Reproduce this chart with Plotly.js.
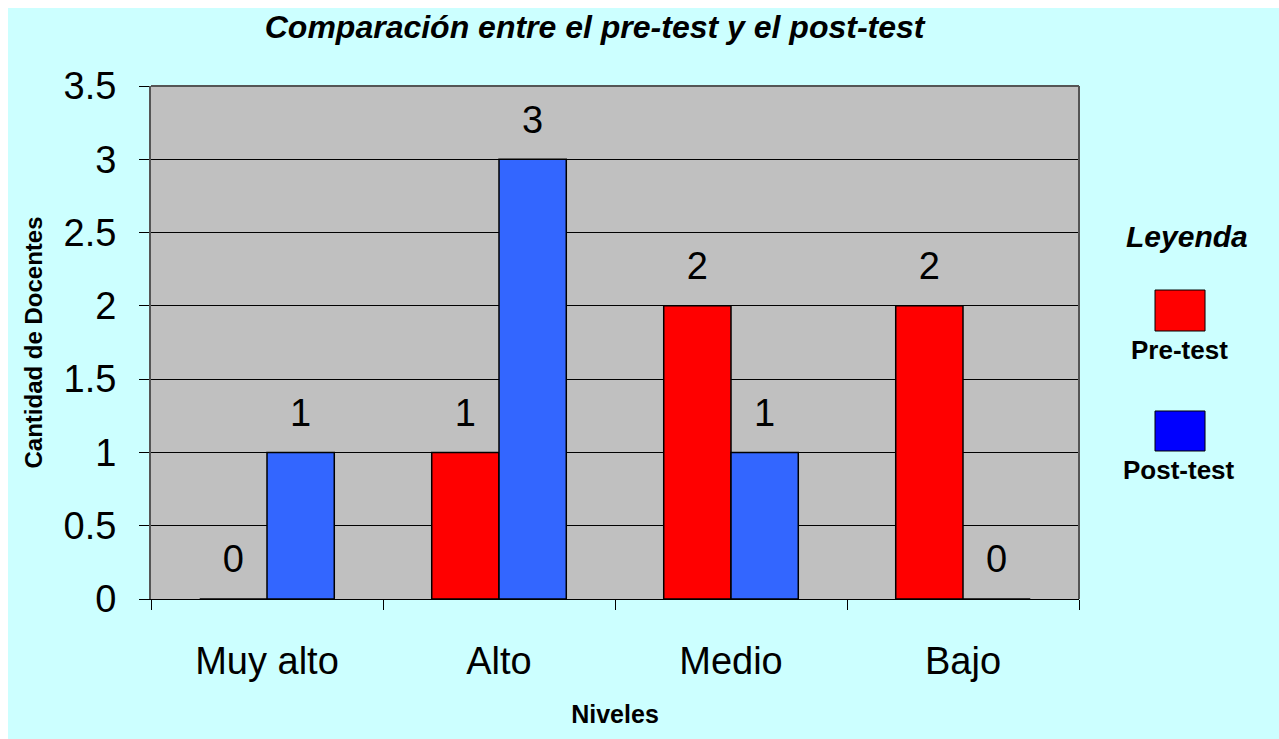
<!DOCTYPE html>
<html>
<head>
<meta charset="utf-8">
<script src="https://cdn.plot.ly/plotly-3.0.1.min.js"></script>
<style>
html,body{margin:0;padding:0;background:#ffffff;}
#chart{position:absolute;left:8px;top:8px;width:1271px;height:731px;}
</style>
</head>
<body>
<div id="chart"></div>
<script>
const categories = ["Muy alto", "Alto", "Medio", "Bajo"];
const seriesNames = ["Pre-test", "Post-test"];
const preTest = [0, 1, 2, 2];
const postTest = [1, 3, 1, 0];
const yTickValues = [0, 0.5, 1, 1.5, 2, 2.5, 3, 3.5];
const yTickLabels = ["0", "0.5", "1", "1.5", "2", "2.5", "3", "3.5"];
const chartTitle = "Comparación entre el pre-test y el post-test";
const xTitle = "Niveles";
const yTitle = "Cantidad de Docentes";
const legendTitle = "Leyenda";

const FONT = '"Liberation Sans", Arial, sans-serif';
const barColors = ["#ff0000", "#3366ff"];
const legendColors = ["#ff0000", "#0000ff"];
const groups = ["pre", "post"];

const labelFont = {family: FONT, size: 38, color: "#000000"};

const barTraces = [preTest, postTest].map((vals, i) => ({
  type: "bar",
  name: seriesNames[i],
  x: categories,
  y: vals,
  offsetgroup: groups[i],
  alignmentgroup: "a",
  marker: {color: barColors[i], line: {color: "#000000", width: 1.5}},
  hoverinfo: "x+y+name",
  showlegend: false
}));

const labelTraces = [preTest, postTest].map((vals, i) => ({
  type: "scatter",
  mode: "markers+text",
  name: seriesNames[i] + " labels",
  x: categories,
  y: vals,
  offsetgroup: groups[i],
  alignmentgroup: "a",
  text: vals.map(v => String(v)),
  textposition: "top center",
  textfont: labelFont,
  marker: {size: 26, opacity: 0},
  cliponaxis: false,
  hoverinfo: "skip",
  showlegend: false
}));

const layout = {
  width: 1271,
  height: 731,
  paper_bgcolor: "#ccffff",
  plot_bgcolor: "#c0c0c0",
  margin: {l: 143, r: 200, t: 78, b: 140, autoexpand: false},
  barmode: "group",
  scattermode: "group",
  bargap: 0.42,
  bargroupgap: 0,
  showlegend: false,
  title: {
    text: "<i>" + chartTitle + "</i>",
    font: {family: FONT, size: 32, color: "#000000", weight: "bold"},
    x: 0.478, xref: "paper", xanchor: "center",
    y: 0.99, yref: "container", yanchor: "top"
  },
  xaxis: {
    type: "category",
    tickson: "boundaries",
    ticks: "outside",
    ticklen: 10,
    tickcolor: "#000000",
    tickfont: {family: FONT, size: 38, color: "#000000"},
    ticklabelstandoff: 28,
    showline: true,
    linecolor: "#000000",
    linewidth: 1,
    mirror: false,
    showgrid: false,
    zeroline: false,
    title: {text: xTitle, font: {family: FONT, size: 25, color: "#000000", weight: "bold"}, standoff: 24}
  },
  yaxis: {
    range: [0, 3.5],
    tickvals: yTickValues,
    ticktext: yTickLabels,
    ticks: "outside",
    ticklen: 10,
    tickcolor: "#000000",
    tickfont: {family: FONT, size: 38, color: "#000000"},
    ticklabelstandoff: 15,
    showline: true,
    linecolor: "#555555",
    linewidth: 2,
    mirror: false,
    showgrid: true,
    gridcolor: "#000000",
    gridwidth: 1,
    zeroline: false,
    title: {text: yTitle, font: {family: FONT, size: 24, color: "#000000", weight: "bold"}, standoff: 14}
  },
  shapes: [
    {type: "line", xref: "paper", yref: "paper", x0: 0, x1: 1, y0: 1, y1: 1, line: {color: "#555555", width: 2}},
    {type: "line", xref: "paper", yref: "paper", x0: 1, x1: 1, y0: 0, y1: 1, line: {color: "#555555", width: 2}},
    {type: "rect", xref: "paper", yref: "paper", x0: 1.0819, x1: 1.1358, y0: 0.5224, y1: 0.6023,
     fillcolor: legendColors[0], line: {color: "#000000", width: 1}},
    {type: "rect", xref: "paper", yref: "paper", x0: 1.0819, x1: 1.1358, y0: 0.2885, y1: 0.3665,
     fillcolor: legendColors[1], line: {color: "#000000", width: 1}}
  ],
  annotations: [
    {xref: "paper", yref: "paper", x: 1.1164, y: 0.7076, text: "<i>" + legendTitle + "</i>", showarrow: false,
     font: {family: FONT, size: 30, color: "#000000", weight: "bold"}, xanchor: "center", yanchor: "middle"},
    {xref: "paper", yref: "paper", x: 1.1088, y: 0.4854, text: seriesNames[0], showarrow: false,
     font: {family: FONT, size: 26, color: "#000000", weight: "bold"}, xanchor: "center", yanchor: "middle"},
    {xref: "paper", yref: "paper", x: 1.1078, y: 0.2515, text: seriesNames[1], showarrow: false,
     font: {family: FONT, size: 26, color: "#000000", weight: "bold"}, xanchor: "center", yanchor: "middle"}
  ]
};

Plotly.newPlot("chart", barTraces.concat(labelTraces), layout, {displayModeBar: false});
</script>
</body>
</html>
